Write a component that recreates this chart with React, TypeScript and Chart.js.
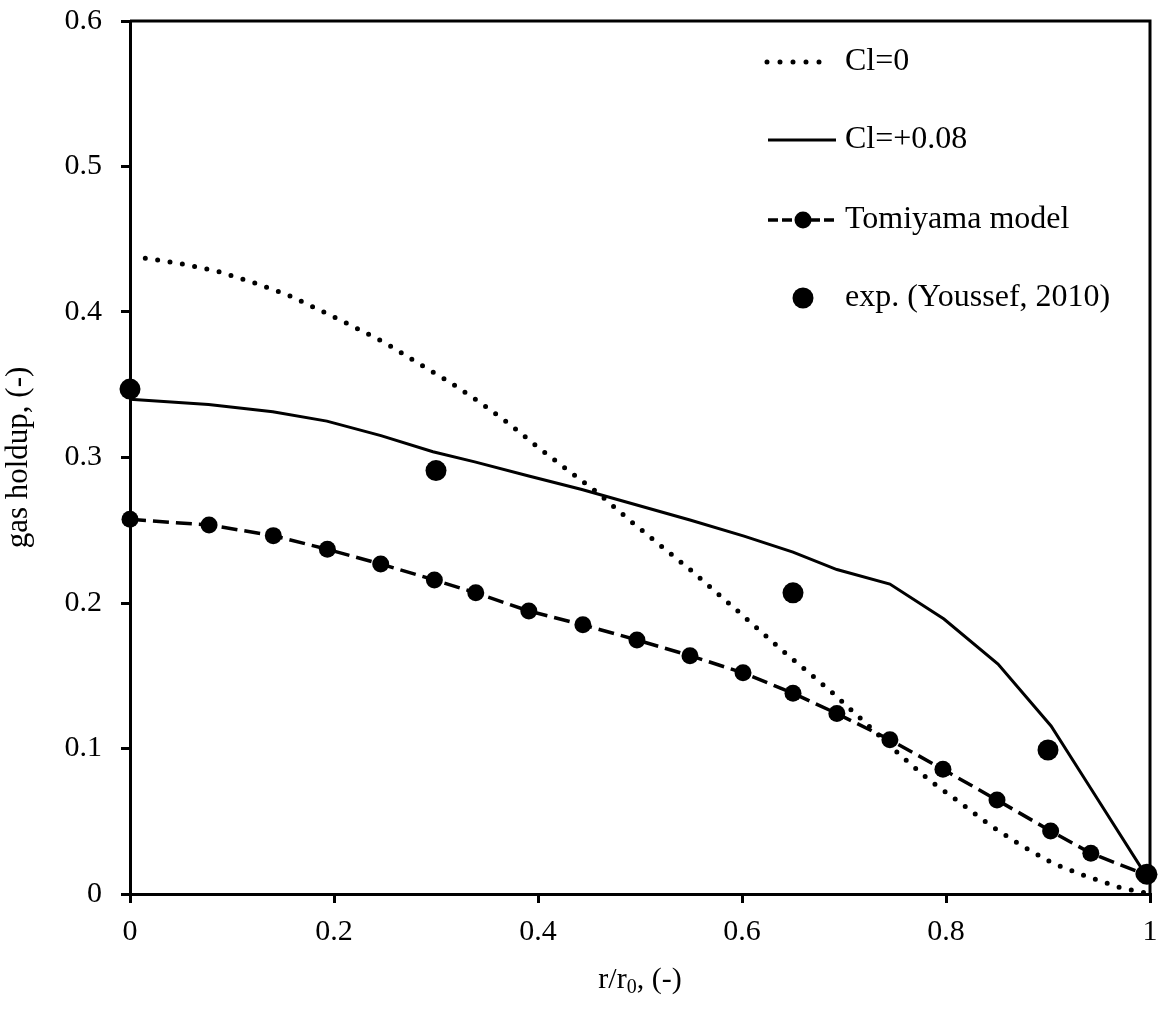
import React, { useEffect, useRef } from "react";
import { Chart, registerables } from "chart.js";

Chart.register(...registerables);

const FONT = "'Liberation Serif', 'Times New Roman', serif";

const xTicks = [0, 0.2, 0.4, 0.6, 0.8, 1];
const xTickLabels = ["0", "0.2", "0.4", "0.6", "0.8", "1"];
const yTicks = [0, 0.1, 0.2, 0.3, 0.4, 0.5, 0.6];
const yTickLabels = ["0", "0.1", "0.2", "0.3", "0.4", "0.5", "0.6"];

const seriesNames = ["Cl=0", "Cl=+0.08", "Tomiyama model", "exp. (Youssef, 2010)"];

const clZeroX = [0.015, 0.051, 0.086, 0.12, 0.154, 0.187, 0.219, 0.251, 0.282, 0.313, 0.343, 0.372, 0.4, 0.428, 0.458, 0.493, 0.549, 0.595, 0.641, 0.686, 0.722, 0.755, 0.784, 0.814, 0.843, 0.873, 0.905, 0.938, 0.97, 1.0];
const clZeroY = [0.437, 0.433, 0.428, 0.4205, 0.412, 0.401, 0.39, 0.3785, 0.365, 0.352, 0.338, 0.323, 0.307, 0.292, 0.276, 0.255, 0.223, 0.195, 0.1665, 0.14, 0.117, 0.0955, 0.078, 0.0627, 0.0474, 0.0337, 0.021, 0.012, 0.0046, 0.0];

const clPlusX = [0.0, 0.077, 0.14, 0.193, 0.246, 0.297, 0.338, 0.39, 0.443, 0.496, 0.549, 0.602, 0.65, 0.693, 0.745, 0.798, 0.851, 0.903, 0.942, 0.995];
const clPlusY = [0.34, 0.3365, 0.3315, 0.325, 0.315, 0.304, 0.297, 0.2875, 0.278, 0.2675, 0.257, 0.246, 0.235, 0.223, 0.213, 0.189, 0.158, 0.1155, 0.0725, 0.014];

const tomiyamaX = [0.0, 0.0775, 0.1405, 0.1935, 0.2458, 0.2984, 0.339, 0.391, 0.444, 0.497, 0.549, 0.601, 0.65, 0.693, 0.745, 0.797, 0.85, 0.9026, 0.942, 0.994];
const tomiyamaY = [0.2575, 0.2536, 0.2463, 0.2369, 0.2268, 0.2158, 0.207, 0.1945, 0.185, 0.1746, 0.1638, 0.152, 0.138, 0.124, 0.106, 0.0857, 0.0646, 0.0433, 0.028, 0.0137];

const expX = [0.0, 0.3, 0.65, 0.9, 0.997];
const expY = [0.347, 0.291, 0.207, 0.099, 0.0135];

const zip = (xs: number[], ys: number[]) => xs.map((x, i) => ({ x, y: ys[i] }));

const framePlugin = {
  id: "frameAndLegend",
  afterDraw(chart: any) {
    const { ctx, chartArea } = chart;
    const { left, right, top, bottom } = chartArea;
    ctx.save();
    // top and right frame
    ctx.strokeStyle = "#000";
    ctx.lineWidth = 3;
    ctx.setLineDash([]);
    ctx.beginPath();
    ctx.moveTo(left, top);
    ctx.lineTo(right, top);
    ctx.lineTo(right, bottom);
    ctx.stroke();

    // legend
    const rows = [62, 140, 220, 298];
    const x0 = 768;
    const x1 = 836;
    const tx = 845;
    chart.data.datasets.forEach((ds: any, i: number) => {
      const y = rows[i];
      if (ds.showLine !== false) {
        ctx.save();
        ctx.strokeStyle = ds.borderColor;
        ctx.lineWidth = ds.borderWidth;
        ctx.lineCap = ds.borderCapStyle || "butt";
        ctx.setLineDash(ds.legendDash || ds.borderDash || []);
        ctx.beginPath();
        ctx.moveTo(i === 0 ? 767 : x0, y);
        ctx.lineTo(i === 0 ? 832 : x1, y);
        ctx.stroke();
        ctx.restore();
      }
      if (ds.pointRadius > 0) {
        ctx.fillStyle = ds.pointBackgroundColor;
        ctx.beginPath();
        ctx.arc(803, y, ds.pointRadius, 0, Math.PI * 2);
        ctx.fill();
      }
      ctx.fillStyle = "#000";
      ctx.font = `32px ${FONT}`;
      ctx.textAlign = "left";
      ctx.textBaseline = "middle";
      ctx.fillText(ds.label, tx, y);
    });

    // x-axis title with subscript
    const cx = (left + right) / 2;
    const cy = 978;
    const big = `30px ${FONT}`;
    const small = `20px ${FONT}`;
    const p1 = "r/r";
    const p2 = "0";
    const p3 = ", (-)";
    ctx.font = big;
    const w1 = ctx.measureText(p1).width;
    const w3 = ctx.measureText(p3).width;
    ctx.font = small;
    const w2 = ctx.measureText(p2).width;
    let sx = cx - (w1 + w2 + w3) / 2;
    ctx.textBaseline = "alphabetic";
    ctx.fillStyle = "#000";
    ctx.font = big;
    ctx.fillText(p1, sx, cy + 10);
    sx += w1;
    ctx.font = small;
    ctx.fillText(p2, sx, cy + 15);
    sx += w2;
    ctx.font = big;
    ctx.fillText(p3, sx, cy + 10);
    ctx.restore();
  },
};

export default function App() {
  const ref = useRef<HTMLCanvasElement | null>(null);

  useEffect(() => {
    if (!ref.current) return;
    const tickFont = { family: FONT, size: 30, lineHeight: 1.2 };
    const chart = new Chart(ref.current, {
      type: "scatter",
      data: {
        datasets: [
          {
            label: seriesNames[0],
            data: zip(clZeroX, clZeroY),
            showLine: true,
            borderColor: "#000",
            borderWidth: 5,
            borderCapStyle: "round",
            borderDash: [0, 12.5],
            legendDash: [0, 13],
            pointRadius: 0,
            pointHoverRadius: 0,
            tension: 0,
            order: 3,
            clip: false,
          } as any,
          {
            label: seriesNames[1],
            data: zip(clPlusX, clPlusY),
            showLine: true,
            borderColor: "#000",
            borderWidth: 3,
            pointRadius: 0,
            pointHoverRadius: 0,
            tension: 0,
            order: 2,
            clip: false,
          } as any,
          {
            label: seriesNames[2],
            data: zip(tomiyamaX, tomiyamaY),
            showLine: true,
            borderColor: "#000",
            borderWidth: 3.5,
            borderDash: [16, 7],
            legendDash: [10, 4],
            pointRadius: 8.5,
            pointBackgroundColor: "#000",
            pointBorderColor: "#000",
            pointBorderWidth: 0,
            tension: 0,
            order: 1,
            clip: false,
          } as any,
          {
            label: seriesNames[3],
            data: zip(expX, expY),
            showLine: false,
            borderColor: "#000",
            pointRadius: 10.5,
            pointBackgroundColor: "#000",
            pointBorderColor: "#000",
            pointBorderWidth: 0,
            order: 0,
            clip: false,
          } as any,
        ],
      },
      options: {
        responsive: false,
        animation: false,
        events: [],
        layout: { padding: { left: 0, right: 11, top: 21, bottom: 0 } },
        plugins: {
          legend: { display: false },
          tooltip: { enabled: false },
        },
        scales: {
          x: {
            type: "linear",
            position: "bottom",
            min: 0,
            max: 1,
            afterBuildTicks: (s: any) => {
              s.ticks = xTicks.map((v) => ({ value: v }));
            },
            afterFit: (s: any) => {
              s.height = 115;
              s.paddingLeft = 0;
              s.paddingRight = 0;
            },
            ticks: {
              color: "#000",
              font: tickFont,
              padding: 11,
              maxRotation: 0,
              callback: (_v: any, i: number) => xTickLabels[i],
            },
            grid: {
              display: true,
              drawOnChartArea: false,
              drawTicks: true,
              tickLength: 9,
              color: "#000",
              lineWidth: 3,
            },
            border: { display: true, color: "#000", width: 3 },
            title: { display: false },
          },
          y: {
            type: "linear",
            position: "left",
            min: 0,
            max: 0.6,
            afterBuildTicks: (s: any) => {
              s.ticks = yTicks.map((v) => ({ value: v }));
            },
            afterFit: (s: any) => {
              s.width = 130;
              s.paddingTop = 0;
              s.paddingBottom = 0;
            },
            ticks: {
              color: "#000",
              font: tickFont,
              padding: 19,
              callback: (_v: any, i: number) => yTickLabels[i],
            },
            grid: {
              display: true,
              drawOnChartArea: false,
              drawTicks: true,
              tickLength: 9,
              color: "#000",
              lineWidth: 3,
            },
            border: { display: true, color: "#000", width: 3 },
            title: {
              display: true,
              text: "gas holdup, (-)",
              color: "#000",
              font: { family: FONT, size: 31, lineHeight: 1.2 },
              padding: { top: 0, bottom: 0 },
            },
          },
        },
      },
      plugins: [framePlugin],
    });
    return () => chart.destroy();
  }, []);

  return (
    <div style={{ position: "absolute", left: 0, top: 0, width: 1161, height: 1009, background: "#fff" }}>
      <canvas ref={ref} width={1161} height={1009} style={{ display: "block", width: 1161, height: 1009 }} />
    </div>
  );
}
